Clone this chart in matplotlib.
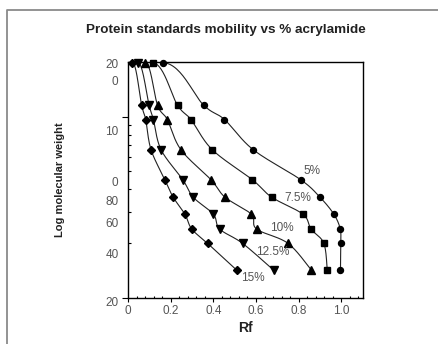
import matplotlib
matplotlib.use('Agg')
import matplotlib.pyplot as plt
import numpy as np
from matplotlib.lines import Line2D
from matplotlib.ticker import MultipleLocator, LogLocator, NullFormatter

# molecular weight of the standards (kDa), shared by all gels
mw = [200, 116, 97, 66, 45, 36, 29, 24, 20, 14.2]

# Rf for each gel percentage
rf_5 = [0.163, 0.356, 0.452, 0.587, 0.810, 0.900, 0.965, 0.995, 0.997, 0.996]
rf_7_5 = [0.115, 0.233, 0.295, 0.395, 0.583, 0.674, 0.820, 0.858, 0.918, 0.934]
rf_10 = [0.082, 0.139, 0.184, 0.248, 0.389, 0.455, 0.578, 0.603, 0.750, 0.860]
rf_12_5 = [0.047, 0.099, 0.119, 0.155, 0.257, 0.306, 0.400, 0.430, 0.537, 0.683]
rf_15 = [0.021, 0.064, 0.083, 0.108, 0.173, 0.212, 0.267, 0.299, 0.373, 0.510]

series_rf = [rf_5, rf_7_5, rf_10, rf_12_5, rf_15]
series_marker = ['o', 's', '^', 'v', 'D']
series_ms = [4.3, 4.9, 6.0, 6.0, 4.0]
series_label = ['5%', '7.5%', '10%', '12.5%', '15%']
label_pos = [(0.864, 50), (0.797, 35.8), (0.723, 24.4), (0.677, 18.0), (0.583, 12.9)]

# y tick texts as they appear (wrapped/shifted in the original)
ytxt = ['20', '0', '10', '0', '80', '60', '40', '20']
ytxt_frac = [0.987, 0.916, 0.704, 0.485, 0.405, 0.313, 0.181, -0.024]

xticks = [0, 0.2, 0.4, 0.6, 0.8, 1.0]
xtick_labels = ['0', '0.2', '0.4', '0.6', '0.8', '1.0']

NUM_FONT = ['Liberation Sans', 'DejaVu Sans']
BOLD_FONT = ['Liberation Sans Narrow', 'Liberation Sans', 'DejaVu Sans']
GREY = '#555555'


def smooth_curve(ax, xs, ys, n=30):
    # excel-like smoothed line, computed in display space
    pts = ax.transData.transform(np.column_stack([xs, ys]))
    p = np.vstack([pts[0], pts, pts[-1]])
    t = np.linspace(0, 1, n)[:, None]
    out = []
    for i in range(1, len(p) - 2):
        p0, p1, p2, p3 = p[i - 1], p[i], p[i + 1], p[i + 2]
        c1 = p1 + (p2 - p0) / 6.0
        c2 = p2 - (p3 - p1) / 6.0
        if i == 1:
            # curve leaves the top marker horizontally
            c1 = np.array([p1[0] + (p2[0] - p1[0]) * 0.45, p1[1]])
        seg = (1 - t) ** 3 * p1 + 3 * (1 - t) ** 2 * t * c1 + 3 * (1 - t) * t ** 2 * c2 + t ** 3 * p2
        out.append(seg)
    return ax.transData.inverted().transform(np.vstack(out))


fig = plt.figure(figsize=(4.38, 3.44), dpi=100)
ax = fig.add_axes([0.2922, 0.1346, 0.5358, 0.6852])
ax.set_yscale('log')
ax.set_xlim(0, 1.1)
ax.set_ylim(10, 202)

for rf, mk, ms in zip(series_rf, series_marker, series_ms):
    curve = smooth_curve(ax, rf, mw)
    ax.plot(curve[:, 0], curve[:, 1], color='#222222', lw=0.8, zorder=2)
    ax.plot(rf, mw, linestyle='none', marker=mk, ms=ms, color='black', clip_on=False, zorder=3)

for lab, (lx, ly) in zip(series_label, label_pos):
    ax.text(lx, ly, lab, ha='center', va='center', fontsize=8.5, color=GREY, family=NUM_FONT)

# axes styling
for sp in ax.spines.values():
    sp.set_linewidth(1.0)
    sp.set_color('black')

ax.set_xticks(xticks)
ax.set_xticklabels(xtick_labels, family=NUM_FONT, fontsize=8.5, color=GREY)
ax.xaxis.set_minor_locator(MultipleLocator(0.04))
ax.tick_params(axis='x', which='major', direction='out', length=2.8, width=0.8, pad=2.5)
ax.tick_params(axis='x', which='minor', direction='in', length=1.8, width=0.8)

ax.yaxis.set_major_locator(LogLocator(base=10))
ax.yaxis.set_minor_locator(LogLocator(base=10, subs=np.arange(2, 10)))
ax.yaxis.set_major_formatter(NullFormatter())
ax.yaxis.set_minor_formatter(NullFormatter())
ax.tick_params(axis='y', which='major', direction='out', length=4, width=0.8)
ax.tick_params(axis='y', which='minor', direction='in', length=1.8, width=0.8)

for s, f in zip(ytxt, ytxt_frac):
    ax.text(-0.04, f, s, transform=ax.transAxes, ha='right', va='center',
            fontsize=8.5, color=GREY, family=NUM_FONT, clip_on=False)

ax.set_xlabel('Rf', fontsize=10, fontweight='bold', family=BOLD_FONT, color='#222222', labelpad=3)
fig.text(0.137, 0.477, 'Log molecular weight', rotation=90, ha='center', va='center',
         fontsize=8, fontweight='bold', family=BOLD_FONT, color='#222222')
fig.text(0.516, 0.913, 'Protein standards mobility vs % acrylamide', ha='center', va='center',
         fontsize=9.7, fontweight='bold', family=BOLD_FONT, color='#222222')

# partial frame round the figure (top and left only)
fx = 7 / 438
fy = 1 - 10 / 344
fig.add_artist(Line2D([fx, fx, 1.0], [0.0, fy, fy], transform=fig.transFigure,
                      color='#8a8a8a', lw=1.3))

fig.savefig('out.png', dpi=100)
